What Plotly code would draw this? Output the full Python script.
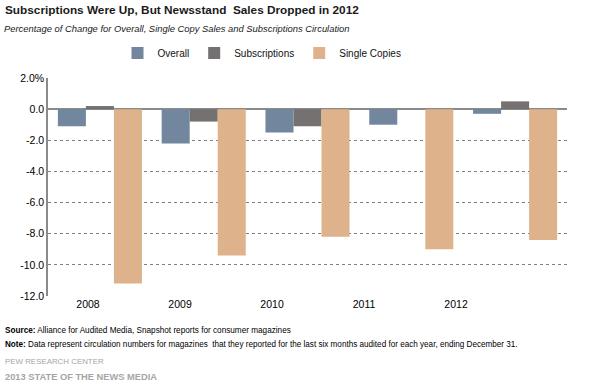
import plotly.graph_objects as go

years = ["2008", "2009", "2010", "2011", "2012"]
overall = [-1.1, -2.2, -1.5, -1.0, -0.3]
subscriptions = [0.2, -0.8, -1.1, 0.0, 0.5]
single_copies = [-11.2, -9.4, -8.2, -9.0, -8.4]
y_ticks = [2, 0, -2, -4, -6, -8, -10, -12]
y_ticklabels = ["2.0%", "0.0", "-2.0", "-4.0", "-6.0", "-8.0", "-10.0", "-12.0"]

FONT = "Liberation Sans, Arial, sans-serif"

fig = go.Figure()
fig.add_bar(x=years, y=overall, name="Overall", marker_color="#72879E", marker_line_width=0)
fig.add_bar(x=years, y=subscriptions, name="Subscriptions", marker_color="#767171", marker_line_width=0)
fig.add_bar(x=years, y=single_copies, name="Single Copies", marker_color="#DEB28A", marker_line_width=0)
# invisible trace carrying the category labels on a secondary axis
fig.add_scatter(x=years, y=[None]*5, xaxis="x2", showlegend=False, hoverinfo="skip")

fig.update_layout(
    width=591, height=388,
    margin=dict(l=48, r=24, t=78, b=92, autoexpand=False),
    paper_bgcolor="white", plot_bgcolor="white",
    font=dict(family=FONT, size=11, color="#000"),
    barmode="group", bargap=0.19, bargroupgap=0,
    showlegend=True,
    legend=dict(orientation="h", xref="container", yref="container",
                x=262 / 591, xanchor="center", y=1 - 53 / 388, yanchor="middle",
                font=dict(size=10, family=FONT, color="#111"), itemwidth=30, tracegroupgap=0,
                bgcolor="rgba(0,0,0,0)"),
    xaxis=dict(type="category", range=[-0.5, 4.5], showticklabels=False, showgrid=False,
               zeroline=False, showline=False, ticks=""),
    xaxis2=dict(type="category", overlaying="x", side="bottom", range=[-0.435, 5.206],
                showgrid=False, zeroline=False, showline=False, ticks="",
                tickfont=dict(size=10.5, family=FONT, color="#000")),
    yaxis=dict(range=[-12, 2], tickvals=y_ticks, ticktext=y_ticklabels,
               showgrid=True, gridcolor="#7f7f7f", griddash="dot", gridwidth=1,
               zeroline=True, zerolinecolor="#8a8a8a", zerolinewidth=2,
               showline=True, linecolor="#8a8a8a", linewidth=1.5,
               ticks="", tickfont=dict(size=10.5, family=FONT, color="#000")),
)

ann = [
    dict(text="<b>Subscriptions Were Up, But Newsstand  Sales Dropped in 2012</b>", x=3, y=10,
         font=dict(size=11.8, color="#1a1a1a")),
    dict(text="<i>Percentage of Change for Overall, Single Copy Sales and Subscriptions Circulation</i>",
         x=2, y=29, font=dict(size=9.4, color="#1a1a1a")),
    dict(text="<b>Source:</b> Alliance for Audited Media, Snapshot reports for consumer magazines",
         x=3, y=330, font=dict(size=8.2, color="#000")),
    dict(text="<b>Note:</b> Data represent circulation numbers for magazines  that they reported for the last six months audited for each year, ending December 31.",
         x=3, y=344, font=dict(size=8.15, color="#000")),
    dict(text="PEW RESEARCH CENTER", x=3, y=361, font=dict(size=7.9, color="#a6a6a6")),
    dict(text="<b>2013 STATE OF THE NEWS MEDIA</b>", x=3, y=377, font=dict(size=9.3, color="#a6a6a6")),
]
for a in ann:
    fig.add_annotation(text=a["text"], xref="paper", yref="paper",
                       x=(a["x"] - 48) / 519, y=1 - (a["y"] - 78) / 218,
                       xanchor="left", yanchor="middle", showarrow=False,
                       font=dict(family=FONT, **a["font"]))

fig.write_html("out.html", config={"displayModeBar": False},
               post_script="document.body.style.margin='0';")
